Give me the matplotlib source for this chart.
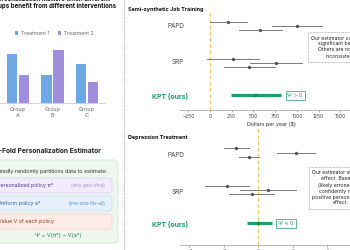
import matplotlib
matplotlib.use("Agg")
import matplotlib.pyplot as plt
from matplotlib.patches import FancyBboxPatch
from matplotlib.lines import Line2D

plt.rcParams['font.family'] = ['Inter', 'DejaVu Sans']

# bar panel data
groups = ["Group\nA", "Group\nB", "Group\nC"]
treat1 = [0.82, 0.47, 0.65]
treat2 = [0.47, 0.88, 0.35]

# forest plots: (low, point, high) for each of three runs
methods = ["PAPD", "SRP"]
job_papd = [(0, 205, 425), (710, 1000, 1290), (330, 575, 830)]
job_srp = [(-40, 260, 560), (460, 760, 1060), (165, 450, 750)]
job_kpt = (240, 520, 820)
dep_papd = [(-2.0, -1.3, -0.55), (1.05, 2.2, 3.3), (-1.15, -0.55, 0.05)]
dep_srp = [(-3.1, -1.85, -0.55), (-1.05, 0.57, 2.2), (-1.7, -0.4, 0.9)]
dep_kpt = (-0.65, 0.0, 0.8)
job_ticks = [-250, 0, 250, 500, 750, 1000, 1250, 1500]
dep_ticks = [-4, -2, 0, 2, 4, 6]

W, H = 350, 250
fig = plt.figure(figsize=(3.5, 2.5), dpi=100)


def fx(x):
    return x / W


def fy(y):
    return 1 - y / H


def axes_px(l, t, r, b):
    return fig.add_axes([fx(l), fy(b), (r - l) / W, (b - t) / H])


blue = '#6fa6e4'
purple = '#a08ddc'
green = '#1f9d6a'
gray = '#7a7a7a'

# ---- top left: bar chart ----
fig.text(fx(52), fy(-1), "Personalization matters when different", ha='center', va='center',
         fontsize=4.4, fontweight='bold', color='#222222')
fig.text(fx(52), fy(6), "groups benefit from different interventions", ha='center', va='center',
         fontsize=4.4, fontweight='bold', color='#111111')

axb = axes_px(0, 43, 105, 103)
x = range(len(groups))
axb.bar([i - 0.175 for i in x], treat1, width=0.3, color=blue, label='Treatment 1')
axb.bar([i + 0.175 for i in x], treat2, width=0.3, color=purple, label='Treatment 2')
axb.set_xlim(-0.52, 2.52)
axb.set_ylim(0, 1)
axb.set_xticks(list(x))
axb.set_xticklabels(groups, fontsize=4, color='#666666', linespacing=1.3)
axb.tick_params(axis='x', length=0, pad=3)
axb.set_yticks([])
for s in ['top', 'right', 'left']:
    axb.spines[s].set_visible(False)
axb.spines['bottom'].set_color('#cccccc')
axb.spines['bottom'].set_linewidth(0.6)
axb.legend(loc='center', bbox_to_anchor=(fx(54), fy(33.5)), bbox_transform=fig.transFigure,
           ncol=2, fontsize=3.7, frameon=False, handlelength=0.7, handleheight=0.7,
           handletextpad=0.5, columnspacing=1.6, labelcolor='#666666')

# separator
fig.add_artist(Line2D([fx(124), fx(124)], [0, 1], color='#888888', lw=0.6, ls=(0, (1, 1.2))))

# ---- bottom left: estimator box ----
fig.text(fx(101), fy(151), "K-Fold Personalization Estimator", ha='right', va='center',
         fontsize=4.8, fontweight='bold', color='#222222')


def box(l, t, r, b, fc, ec, lw=0.6):
    p = FancyBboxPatch((fx(l), fy(b)), (r - l) / W, (b - t) / H,
                       boxstyle="round,pad=0,rounding_size=0.012", transform=fig.transFigure,
                       fc=fc, ec=ec, lw=lw)
    fig.add_artist(p)


box(-10, 160, 118, 243, '#eef7ee', '#cfe6cf')
fig.text(fx(107), fy(172), "Repeatedly randomly partitions data to estimate:", ha='right', va='center',
         fontsize=3.9, color='#333333')
box(-10, 178, 112, 193, '#f1ecfb', '#ddd2f5')
fig.text(fx(-3), fy(185.5), "Personalized policy π*", ha='left', va='center', fontsize=3.8, color='#4b3a8c')
fig.text(fx(105), fy(185.5), "(who gets what)", ha='right', va='center', fontsize=3.2, color='#a595d4')
box(-10, 196, 112, 211, '#e7f1fc', '#cde0f6')
fig.text(fx(-3), fy(203.5), "Uniform policy a*", ha='left', va='center', fontsize=3.8, color='#2b5f9e')
fig.text(fx(105), fy(203.5), "(one-size-fits-all)", ha='right', va='center', fontsize=3.2, color='#5a93d0')
box(-10, 214, 112, 229, '#fdebe5', '#f5d3c8')
fig.text(fx(-2), fy(221.5), "Value V of each policy", ha='left', va='center', fontsize=3.8, color='#9a3b22')
fig.text(fx(58), fy(236), "Ψ = V(π*) − V(a*)", ha='center', va='center', fontsize=4, color='#2e7d4f')


# ---- right: forest plots ----
def forest(ax, papd, srp, kpt, ticks, xlim, ylim, psi_text, psi_x):
    rows = {0: papd, 1: srp}
    offs = [-0.11, 0.0, 0.11]
    ax.axvline(0, color='#f0c463', lw=0.9, ls=(0, (3, 2)), zorder=1)
    for r, runs in rows.items():
        for o, (lo, pt, hi) in zip(offs, runs):
            ax.plot([lo, hi], [r + o, r + o], color=gray, lw=0.7, zorder=2)
            ax.plot(pt, r + o, 'o', color='#555555', ms=1.4, zorder=3)
    lo, pt, hi = kpt
    ax.plot([lo, hi], [1.88, 1.88], color=green, lw=2.3, solid_capstyle='butt', zorder=2)
    ax.plot(pt, 1.88, 'o', color='#178a5a', ms=1.6, zorder=3)
    ax.text(psi_x, 1.88, psi_text, ha='center', va='center', fontsize=4, color=green,
            bbox=dict(boxstyle='square,pad=0.35', fc='white', ec=green, lw=0.5))
    ax.set_xlim(*xlim)
    ax.set_ylim(*ylim)
    ax.set_xticks(ticks)
    ax.set_xticklabels([str(t) if t >= 0 else "−" + str(-t) for t in ticks])
    ax.set_yticks([])
    ax.tick_params(axis='x', labelsize=3.6, length=1.5, width=0.5, color='#888888',
                   labelcolor='#444444', pad=1.5)
    for s in ['top', 'right', 'left']:
        ax.spines[s].set_visible(False)
    ax.spines['bottom'].set_color('#aaaaaa')
    ax.spines['bottom'].set_linewidth(0.6)


ax1 = axes_px(180, 10, 362, 110)
forest(ax1, job_papd, job_srp, job_kpt, job_ticks, (-345, 1748), (2.28, -0.43), "Ψ > 0", 980)
ax1.set_xlabel("Dollars per year ($)", fontsize=3.9, color='#333333', labelpad=2)

ax2 = axes_px(180, 128, 362, 245)
forest(ax2, dep_papd, dep_srp, dep_kpt, dep_ticks, (-4.55, 5.55), (2.45, -0.65), "Ψ ≈ 0", 1.6)

fig.text(fx(128), fy(9), "Semi-synthetic Job Training", ha='left', va='center',
         fontsize=3.9, fontweight='bold', color='#111111')
fig.text(fx(128), fy(138), "Depression Treatment", ha='left', va='center',
         fontsize=3.9, fontweight='bold', color='#111111')

for yy, name in zip([26, 62.5], methods):
    fig.text(fx(184), fy(yy), name, ha='right', va='center', fontsize=4.6, color='#444444')
for yy, name in zip([155, 191.5], methods):
    fig.text(fx(184), fy(yy), name, ha='right', va='center', fontsize=4.6, color='#444444')
fig.text(fx(188), fy(96), "KPT (ours)", ha='right', va='center', fontsize=5, fontweight='bold', color=green)
fig.text(fx(188), fy(224), "KPT (ours)", ha='right', va='center', fontsize=5, fontweight='bold', color=green)

note_kw = dict(ha='center', va='center', fontsize=3.7, color='#222222', linespacing=1.25,
               bbox=dict(boxstyle='square,pad=0.6', fc='white', ec='#888888', lw=0.5, ls=(0, (1, 1))))
fig.text(fx(341), fy(47), "Our estimator confirms a\nsignificant benefit.\nOthers are noisy or\ninconsistent.",
         **note_kw)
fig.text(fx(341), fy(188), "Our estimator shows no\neffect. Baselines\n(likely erroneously)\n"
         "confidently report\npositive personalization\neffect.", **note_kw)

fig.savefig("out.png", dpi=100)
